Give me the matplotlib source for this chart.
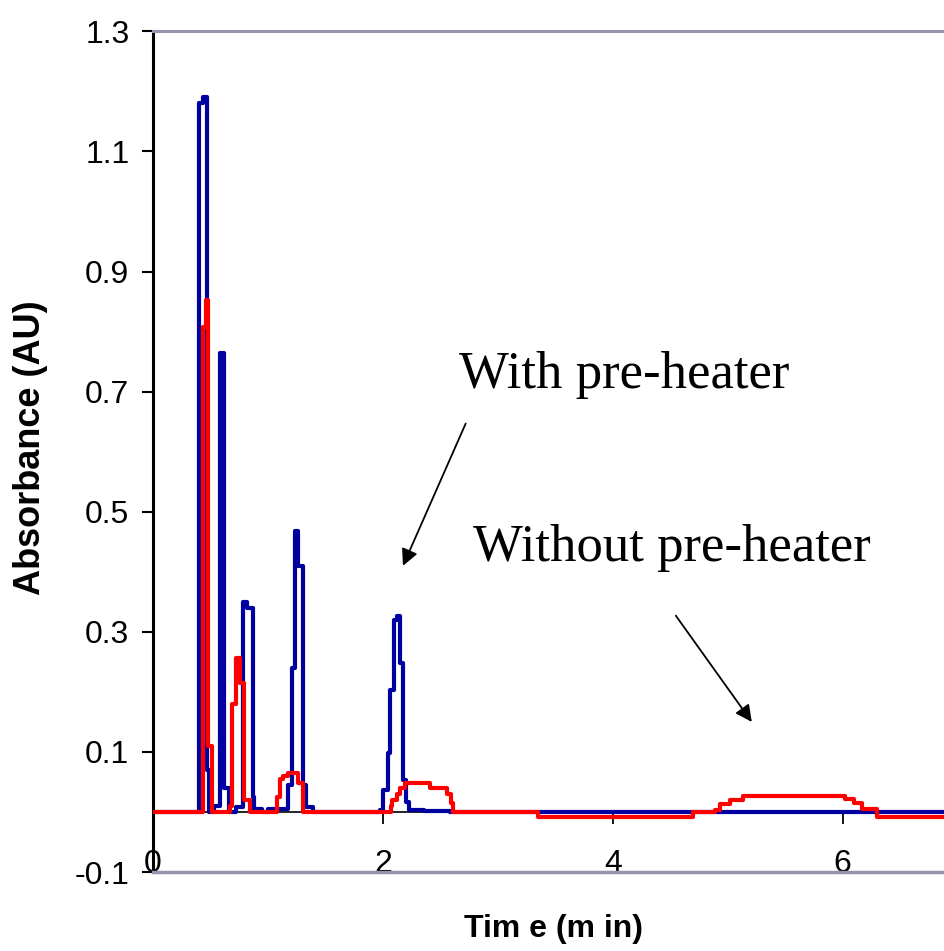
import matplotlib.pyplot as plt

# with pre-heater (blue) - step trace
t_with = [0.0, 0.40, 0.435, 0.47, 0.487, 0.53, 0.583, 0.617, 0.66, 0.72, 0.78, 0.815, 0.865,
          0.875, 0.95, 1.0, 1.17, 1.209, 1.235, 1.26, 1.30, 1.33, 1.39, 1.97, 2.0, 2.04,
          2.06, 2.10, 2.12, 2.15, 2.17, 2.20, 2.23, 2.36, 2.58, 6.89]
a_with = [0.0, 1.18, 1.19, 0.07, 0.0, 0.01, 0.765, 0.04, 0.0, 0.008, 0.35, 0.34, 0.025,
          0.005, 0.0, 0.005, 0.045, 0.24, 0.468, 0.41, 0.045, 0.008, 0.0, 0.004, 0.037, 0.098,
          0.203, 0.32, 0.327, 0.248, 0.053, 0.017, 0.004, 0.002, 0.0, 0.0]

# without pre-heater (red)
t_without = [0.0, 0.435, 0.46, 0.48, 0.51, 0.67, 0.69, 0.72, 0.76, 0.79, 0.84, 1.08, 1.10,
             1.13, 1.17, 1.26, 1.30, 2.07, 2.08, 2.12, 2.15, 2.19, 2.41, 2.56, 2.59, 2.61,
             3.35, 4.70, 4.89, 4.93, 5.02, 5.13, 6.02, 6.10, 6.17, 6.30, 6.89]
a_without = [0.0, 0.807, 0.852, 0.11, 0.0, 0.01, 0.18, 0.257, 0.215, 0.02, 0.0, 0.025, 0.055,
             0.06, 0.065, 0.048, 0.0, 0.01, 0.02, 0.03, 0.04, 0.048, 0.04, 0.03, 0.015, 0.0,
             -0.008, 0.0, 0.003, 0.013, 0.02, 0.027, 0.022, 0.015, 0.005, -0.008, -0.008]

xticks = [0, 2, 4, 6]
yticks = [1.3, 1.1, 0.9, 0.7, 0.5, 0.3, 0.1, -0.1]

frame_grey = '#9494AE'

fig = plt.figure(figsize=(9.45, 9.51), dpi=100)
ax = fig.add_axes([0.162, 0.083, 0.838, 0.884])

ax.plot(t_with, a_with, drawstyle='steps-post', color='#0000A0', lw=3.0, zorder=3)
ax.plot(t_without, a_without, drawstyle='steps-post', color='#FF0000', lw=3.0, zorder=4)

ax.set_xlim(0, 6.89)
ax.set_ylim(-0.1, 1.3)

# x axis sits on zero, outer frame is grey
ax.spines['bottom'].set_position(('data', 0))
ax.spines['bottom'].set_color('black')
ax.spines['bottom'].set_linewidth(1.2)
ax.spines['right'].set_visible(False)
ax.spines['top'].set_color(frame_grey)
ax.spines['top'].set_linewidth(2.2)
ax.spines['left'].set_color('black')
ax.spines['left'].set_linewidth(2.2)
ax.axhline(-0.1, color=frame_grey, lw=2.5, clip_on=False, zorder=5)

ax.set_xticks(xticks)
ax.set_xticklabels([str(v) for v in xticks])
ax.set_yticks(yticks)
ax.set_yticklabels([f'{v:g}' for v in yticks])
ax.tick_params(axis='x', direction='out', length=8.5, width=1.3, pad=18,
               labelsize=23, labelfontfamily='Liberation Sans')
ax.tick_params(axis='y', direction='out', length=8, width=1.5, pad=9,
               labelsize=23, labelfontfamily='Liberation Sans')

ax.set_ylabel('Absorbance (AU)', fontsize=26, fontweight='bold', family='Liberation Sans')
ax.yaxis.set_label_coords(-0.133, 0.505)
ax.set_xlabel('Tim e (m in)', fontsize=23, fontweight='bold', family='Liberation Sans')
ax.xaxis.set_label_coords(0.505, -0.05)

ax.text(4.096, 0.728, 'With pre-heater', fontsize=38, family='Liberation Serif',
        ha='center', va='center')
ax.text(4.513, 0.44, 'Without pre-heater', fontsize=38, family='Liberation Serif',
        ha='center', va='center')
arrow = dict(arrowstyle='-|>', color='black', lw=1.3, mutation_scale=25, shrinkA=0, shrinkB=0)
ax.annotate('', xy=(2.174, 0.41), xytext=(2.72, 0.647), arrowprops=arrow)
ax.annotate('', xy=(5.209, 0.15), xytext=(4.548, 0.327), arrowprops=arrow)

fig.savefig('out.png', dpi=100)
